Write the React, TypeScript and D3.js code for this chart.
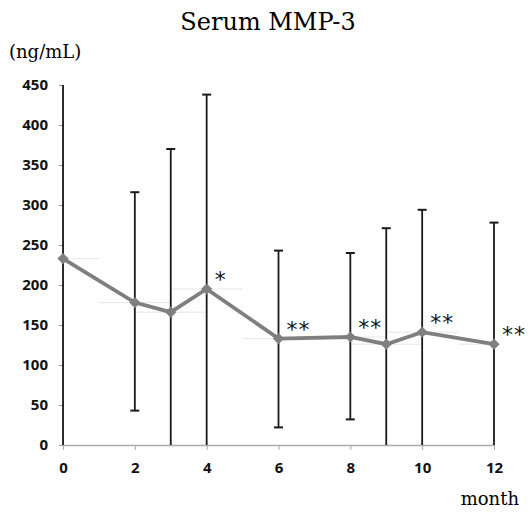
import React, { useEffect, useRef } from "react";
import * as d3 from "d3";

// months of measurement
const months = [0, 2, 3, 4, 6, 8, 9, 10, 12];
// mean serum MMP-3 (ng/mL)
const means = [233, 178, 166, 195, 133, 135, 126, 141, 126];
// error bar ends (ng/mL)
const upper = [470, 316, 370, 438, 243, 240, 271, 294, 278];
const lower = [-20, 43, -20, -20, 22, 32, -20, -20, -20];
// significance marks
const marks = ["", "", "", "*", "**", "**", "", "**", "**"];

const xTicks = [0, 2, 4, 6, 8, 10, 12];
const yTicks = [0, 50, 100, 150, 200, 250, 300, 350, 400, 450];

const App = () => {
    const ref = useRef<SVGSVGElement>(null);

    useEffect(() => {
        const svg = d3.select(ref.current);
        svg.selectAll("*").remove();

        const width = 528;
        const height = 512;
        const margin = { top: 85, right: 34, bottom: 67, left: 63 };

        const x = d3.scaleLinear().domain([0, 12]).range([margin.left, width - margin.right]);
        const y = d3.scaleLinear().domain([0, 450]).range([height - margin.bottom, margin.top]);

        const data = months.map((m, i) => ({
            m, v: means[i], hi: upper[i], lo: lower[i], mark: marks[i]
        }));

        svg.append("defs").append("clipPath").attr("id", "plot-clip")
            .append("rect")
            .attr("x", margin.left - 5)
            .attr("y", margin.top)
            .attr("width", width - margin.left - margin.right + 10)
            .attr("height", height - margin.top - margin.bottom);

        // title
        svg.append("text")
            .attr("x", 268).attr("y", 30)
            .attr("text-anchor", "middle")
            .attr("font-family", "DejaVu Serif, serif")
            .attr("font-size", 24)
            .text("Serum MMP-3");

        svg.append("text")
            .attr("x", 9).attr("y", 58)
            .attr("font-family", "DejaVu Serif, serif")
            .attr("font-size", 18)
            .text("(ng/mL)");

        svg.append("text")
            .attr("x", 519).attr("y", 505)
            .attr("text-anchor", "end")
            .attr("font-family", "DejaVu Serif, serif")
            .attr("font-size", 18)
            .text("month");

        // axes
        const gy = svg.append("g").attr("transform", `translate(${margin.left},0)`)
            .call(d3.axisLeft(y).tickValues(yTicks).tickSize(4).tickPadding(11));
        gy.select(".domain").attr("stroke", "#999");
        gy.selectAll(".tick line").attr("stroke", "#999");
        gy.selectAll(".tick text")
            .attr("font-family", "Open Sans, sans-serif")
            .attr("font-weight", "bold")
            .attr("font-size", 15)
            .attr("fill", "#111");

        const gx = svg.append("g").attr("transform", `translate(0,${y(0)})`)
            .call(d3.axisBottom(x).tickValues(xTicks).tickSize(5).tickSizeOuter(0).tickPadding(12));
        gx.select(".domain").attr("stroke", "#aaa").attr("stroke-width", 1.5);
        gx.selectAll(".tick line").attr("stroke", "#aaa");
        gx.selectAll(".tick text")
            .attr("font-family", "Open Sans, sans-serif")
            .attr("font-weight", "bold")
            .attr("font-size", 15)
            .attr("fill", "#111");

        const plot = svg.append("g").attr("clip-path", "url(#plot-clip)");

        // faint horizontal bars
        plot.selectAll(".xerr").data(data).enter().append("line")
            .attr("x1", d => x(Math.max(0, d.m - 1)))
            .attr("x2", d => x(Math.min(12, d.m + 1)))
            .attr("y1", d => y(d.v)).attr("y2", d => y(d.v))
            .attr("stroke", "#e6e6e6")
            .attr("stroke-width", 1);

        // vertical error bars
        plot.selectAll(".yerr").data(data).enter().append("line")
            .attr("x1", d => x(d.m)).attr("x2", d => x(d.m))
            .attr("y1", d => y(d.lo)).attr("y2", d => y(d.hi))
            .attr("stroke", "#1a1a1a")
            .attr("stroke-width", 1.8);

        const capW = 4.5;
        plot.selectAll(".cap-hi").data(data.filter(d => d.hi < 450)).enter().append("line")
            .attr("x1", d => x(d.m) - capW).attr("x2", d => x(d.m) + capW)
            .attr("y1", d => y(d.hi)).attr("y2", d => y(d.hi))
            .attr("stroke", "#1a1a1a").attr("stroke-width", 2);
        plot.selectAll(".cap-lo").data(data.filter(d => d.lo > 0)).enter().append("line")
            .attr("x1", d => x(d.m) - capW).attr("x2", d => x(d.m) + capW)
            .attr("y1", d => y(d.lo)).attr("y2", d => y(d.lo))
            .attr("stroke", "#1a1a1a").attr("stroke-width", 2);

        // mean line
        const line = d3.line<typeof data[0]>().x(d => x(d.m)).y(d => y(d.v));
        svg.append("path")
            .datum(data)
            .attr("d", line)
            .attr("fill", "none")
            .attr("stroke", "#7f7f7f")
            .attr("stroke-width", 3.8);

        svg.selectAll(".pt").data(data).enter().append("path")
            .attr("d", d3.symbol(d3.symbolDiamond2, 80)() as string)
            .attr("transform", d => `translate(${x(d.m)},${y(d.v)})`)
            .attr("fill", "#7f7f7f");

        // asterisks
        svg.selectAll(".mark").data(data.filter(d => d.mark)).enter().append("text")
            .attr("x", d => x(d.m) + 8)
            .attr("y", d => y(d.v) - 2)
            .attr("font-family", "DejaVu Sans, sans-serif")
            .attr("font-size", 22)
            .attr("letter-spacing", 1)
            .attr("fill", "#111")
            .text(d => d.mark);
    }, []);

    return <svg ref={ref} width={528} height={512} style={{ position: "absolute", left: 0, top: 0 }} />;
};

export default App;
